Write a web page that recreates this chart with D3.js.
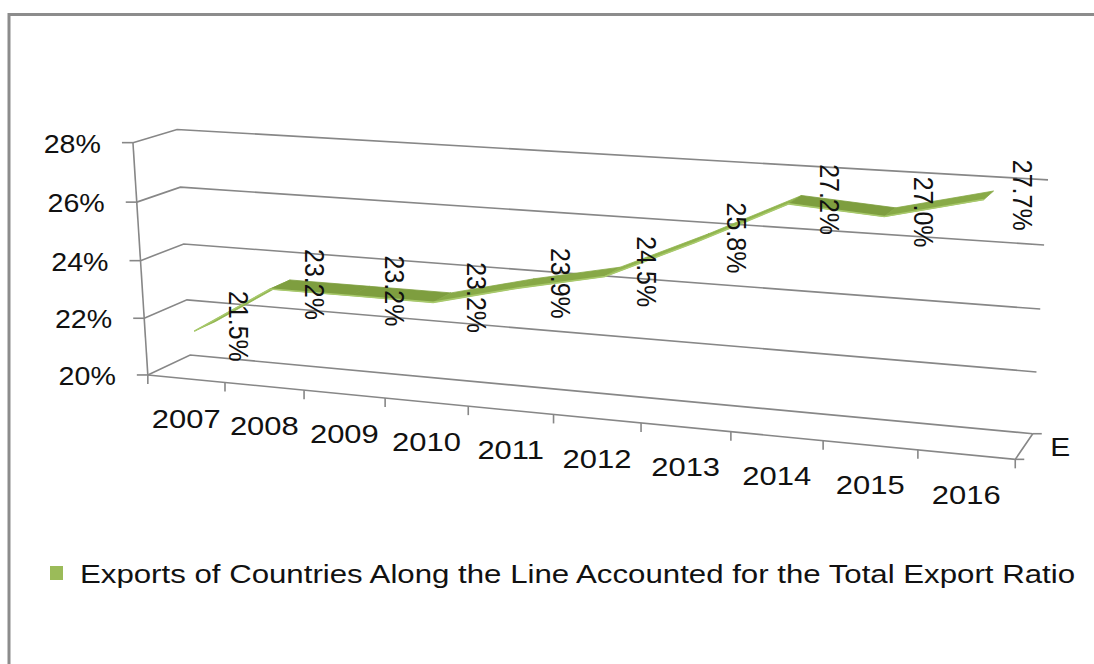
<!DOCTYPE html>
<html>
<head>
<meta charset="utf-8">
<script src="https://cdn.jsdelivr.net/npm/d3@7"></script>
<style>
  html, body { margin: 0; padding: 0; background: #fff; }
  svg text { font-family: "Liberation Sans", Arial, sans-serif; fill: #111; }
</style>
</head>
<body>
<svg id="chart" width="1094" height="664"></svg>
<script>
// ---- data ----
const years = ["2007", "2008", "2009", "2010", "2011", "2012", "2013", "2014", "2015", "2016"];
const ratio = [0.215, 0.232, 0.232, 0.232, 0.239, 0.245, 0.258, 0.272, 0.270, 0.277];
const valueTicks = [0.20, 0.22, 0.24, 0.26, 0.28];
const seriesName = "Exports of Countries Along the Line Accounted for the Total Export Ratio";
const depthLabel = "E";

// ---- 3D box: unit cube (u = category, v = value, w = depth) seen in perspective ----
// screen positions of the plot box corners
const boxCorners = [
  [[0, 0, 0], [148, 375]],
  [[0, 1, 0], [133, 142]],
  [[0, 0, 1], [190, 355]],
  [[0, 1, 1], [177, 130]],
  [[1, 0, 1], [1033, 433]],
  [[1, 1, 1], [1048, 180]],
  [[1, 0, 0], [1015, 460]]
];

// fit a 3x4 projective camera matrix (last entry fixed to 1) by least squares
function fitCamera(pts) {
  const rows = [], rhs = [];
  pts.forEach(([[X, Y, Z], [x, y]]) => {
    rows.push([X, Y, Z, 1, 0, 0, 0, 0, -x * X, -x * Y, -x * Z]); rhs.push(x);
    rows.push([0, 0, 0, 0, X, Y, Z, 1, -y * X, -y * Y, -y * Z]); rhs.push(y);
  });
  const n = 11;
  const M = Array.from({length: n}, () => new Array(n + 1).fill(0));
  rows.forEach((r, k) => {
    for (let i = 0; i < n; i++) {
      for (let j = 0; j < n; j++) M[i][j] += r[i] * r[j];
      M[i][n] += r[i] * rhs[k];
    }
  });
  for (let c = 0; c < n; c++) {
    let p = c;
    for (let r = c + 1; r < n; r++) if (Math.abs(M[r][c]) > Math.abs(M[p][c])) p = r;
    [M[c], M[p]] = [M[p], M[c]];
    for (let r = 0; r < n; r++) {
      if (r === c) continue;
      const f = M[r][c] / M[c][c];
      for (let j = c; j <= n; j++) M[r][j] -= f * M[c][j];
    }
  }
  return M.map((row, i) => row[n] / row[i]);
}
const P = fitCamera(boxCorners);
function project(u, v, w) {
  const d = P[8] * u + P[9] * v + P[10] * w + 1;
  return [(P[0] * u + P[1] * v + P[2] * w + P[3]) / d,
          (P[4] * u + P[5] * v + P[6] * w + P[7]) / d];
}

// ---- scales ----
const x = d3.scaleBand().domain(years).range([0, 1]).paddingInner(0).paddingOuter(0);
const y = d3.scaleLinear().domain([0.20, 0.28]).range([0, 1]);
const uc = yr => x(yr) + x.bandwidth() / 2;
const pctAxis = d3.format(".0%");
const pctLabel = d3.format(".1%");

const svg = d3.select("#chart");
const line = d3.line();
const gridColor = "#878787";

// outer chart frame
svg.append("path")
  .attr("d", "M9,664 V14.5 H1094")
  .attr("fill", "none").attr("stroke", "#8c8c8c").attr("stroke-width", 3);

const grid = svg.append("g").attr("fill", "none").attr("stroke", gridColor).attr("stroke-width", 1.6);

// gridlines on side and back walls
valueTicks.forEach(t => {
  const v = y(t);
  grid.append("path").attr("d", line([project(0, v, 0), project(0, v, 1), project(1, v, 1)]));
});
// floor front and right edges
grid.append("path").attr("d", line([project(0, 0, 0), project(1, 0, 0), project(1, 0, 1)]));
// vertical value axis
grid.append("path").attr("d", line([project(0, 0, 0), project(0, 1, 0)]));

// value axis ticks and labels
valueTicks.forEach(t => {
  const [px, py] = project(0, y(t), 0);
  grid.append("path").attr("d", line([[px - 11, py], [px, py]]));
  svg.append("text")
    .attr("transform", `translate(${px - 32},${py + 1}) scale(1.1,1)`)
    .attr("text-anchor", "end").attr("dominant-baseline", "central")
    .attr("font-size", 26)
    .text(pctAxis(t));
});

// category ticks (band boundaries) and labels
const bounds = years.map(yr => x(yr)).concat([1]);
bounds.forEach(u => {
  const [px, py] = project(u, 0, 0);
  grid.append("path").attr("d", line([[px, py], [px, py + 9]]));
});
years.forEach(yr => {
  const [px, py] = project(uc(yr), 0, 0);
  svg.append("text")
    .attr("transform", `translate(${px},${py + 40}) scale(1.19,1)`)
    .attr("text-anchor", "middle").attr("dominant-baseline", "central")
    .attr("font-size", 26)
    .text(yr);
});

// depth axis ticks and series label
[0, 1].forEach(w => {
  const [px, py] = project(1, 0, w);
  grid.append("path").attr("d", line([[px, py], [px + 9, py]]));
});
{
  const [px, py] = project(1, 0, 0.5);
  svg.append("text")
    .attr("transform", `translate(${px + 26},${py + 1}) scale(1.15,1)`)
    .attr("dominant-baseline", "central")
    .attr("font-size", 26)
    .text(depthLabel);
}

// ---- 3D line ribbon ----
const w0 = 0.25, w1 = 0.75;
const ribbon = svg.append("g");
for (let i = 0; i < years.length - 1; i++) {
  const ua = uc(years[i]), ub = uc(years[i + 1]);
  const va = y(ratio[i]), vb = y(ratio[i + 1]);
  const quad = [project(ua, va, w0), project(ub, vb, w0), project(ub, vb, w1), project(ua, va, w1)];
  const rising = vb - va;
  const fill = d3.interpolateRgb("#7e9e3f", "#91b54e")(Math.max(0, Math.min(1, rising * 6)));
  ribbon.append("path")
    .attr("d", line(quad) + "Z")
    .attr("fill", fill)
    .attr("stroke", fill).attr("stroke-width", 0.8).attr("stroke-linejoin", "round");
}
// lighter front edge of the ribbon
ribbon.append("path")
  .attr("d", line(years.map((yr, i) => project(uc(yr), y(ratio[i]), w0))))
  .attr("fill", "none").attr("stroke", "#a8c96c").attr("stroke-width", 1.6);

// data labels, rotated to read downwards
years.forEach((yr, i) => {
  const [px, py] = project(uc(yr), y(ratio[i]), 0.5);
  svg.append("text")
    .attr("transform", `translate(${px + 34},${py}) scale(1.12,1) rotate(90)`)
    .attr("text-anchor", "middle").attr("dominant-baseline", "central")
    .attr("font-size", 25)
    .text(pctLabel(ratio[i]));
});

// ---- legend ----
svg.append("rect")
  .attr("x", 50).attr("y", 566).attr("width", 13).attr("height", 14)
  .attr("fill", "#9bbb59");
svg.append("text")
  .attr("x", 80).attr("y", 574)
  .attr("dominant-baseline", "central")
  .attr("font-size", 26)
  .attr("textLength", 995).attr("lengthAdjust", "spacingAndGlyphs")
  .text(seriesName);
</script>
</body>
</html>
